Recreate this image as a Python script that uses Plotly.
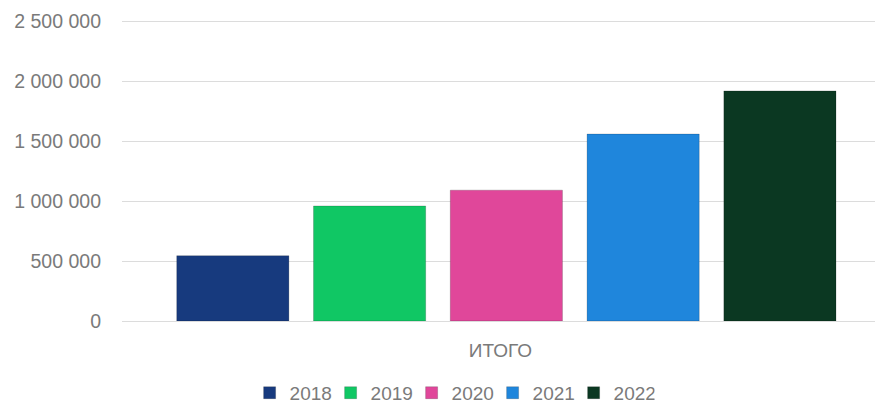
import plotly.graph_objects as go

categories = ["ИТОГО"]
years = ["2018", "2019", "2020", "2021", "2022"]
values_2018 = [545000]
values_2019 = [960000]
values_2020 = [1092000]
values_2021 = [1560000]
values_2022 = [1920000]
series_values = [values_2018, values_2019, values_2020, values_2021, values_2022]
colors = ["#173a7e", "#10c764", "#e0479a", "#1f86dc", "#0b3822"]
y_tickvals = [0, 500000, 1000000, 1500000, 2000000, 2500000]
y_ticktext = ["0", "500 000", "1 000 000", "1 500 000", "2 000 000", "2 500 000"]

FONT = "Liberation Sans, Arial, sans-serif"
GRAY = "#7a7a7a"

fig = go.Figure()
for name, vals, col in zip(years, series_values, colors):
    fig.add_trace(go.Bar(
        name=name, x=categories, y=vals,
        marker=dict(color=col, line=dict(color="rgba(0,0,0,0.18)", width=1)),
    ))

fig.update_layout(
    width=875, height=405,
    barmode="group", bargap=0.1045, bargroupgap=0.18,
    plot_bgcolor="white", paper_bgcolor="white",
    margin=dict(l=122, r=0, t=18.6, b=84, autoexpand=False),
    font=dict(family=FONT, size=19.5, color=GRAY),
    showlegend=True,
    legend=dict(orientation="h", x=0.4384, xanchor="center", y=-0.175, yanchor="top",
                font=dict(family=FONT, size=19, color=GRAY),
                itemwidth=30, entrywidth=36, traceorder="normal"),
    xaxis=dict(range=[-0.5033, 0.4827], showgrid=False, zeroline=False, showline=False,
               automargin=False, ticklabelshift=-6,
               tickfont=dict(family=FONT, size=19, color=GRAY), ticklabelstandoff=16),
    yaxis=dict(range=[0, 2520000], tickvals=y_tickvals, ticktext=y_ticktext,
               automargin=False,
               showgrid=True, gridcolor="#dcdcdc", gridwidth=1.3, zeroline=True,
               zerolinecolor="#dcdcdc", zerolinewidth=1.3, showline=False,
               tickfont=dict(family=FONT, size=19.5, color=GRAY), ticklabelstandoff=20),
)

fig.write_html("out.html", config={"displayModeBar": False},
               post_script="document.body.style.margin='0';document.body.style.overflow='hidden';")
